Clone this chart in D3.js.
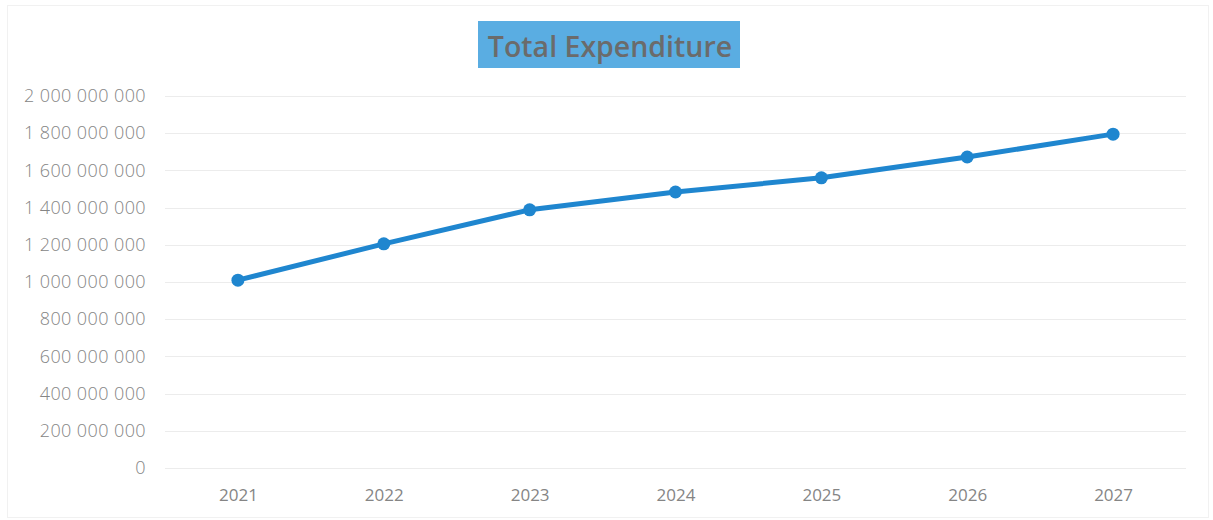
<!DOCTYPE html>
<html>
<head>
<meta charset="utf-8">
<script src="https://cdn.jsdelivr.net/npm/d3@7"></script>
<style>
  html, body { margin: 0; padding: 0; background: #ffffff; }
  svg { display: block; }
</style>
</head>
<body>
<svg id="chart" width="1213" height="520"></svg>
<script>
// Total expenditure per year
const years = ["2021", "2022", "2023", "2024", "2025", "2026", "2027"];
const expenditure = [1010000000, 1205000000, 1388000000, 1484000000, 1560000000, 1672000000, 1795000000];
const yTicks = [0, 200000000, 400000000, 600000000, 800000000, 1000000000,
                1200000000, 1400000000, 1600000000, 1800000000, 2000000000];
const chartTitle = "Total Expenditure";

const W = 1213, H = 520;
const margin = { left: 165, right: 27, top: 96, bottom: 52 };

const svg = d3.select("#chart");

// faint outer frame of the chart area
svg.append("rect")
  .attr("x", 7.5).attr("y", 5.5)
  .attr("width", W - 12).attr("height", H - 8)
  .attr("fill", "none")
  .attr("stroke", "#f1f1f1")
  .attr("stroke-width", 1);

const x = d3.scalePoint()
  .domain(years)
  .range([margin.left, W - margin.right])
  .padding(0.5);

const y = d3.scaleLinear()
  .domain([0, 2000000000])
  .range([H - margin.bottom, margin.top]);

// number format with spaces as thousands separator
const fmtSpace = d3.formatLocale({ decimal: ",", thousands: " ", grouping: [3], currency: ["", ""] }).format(",d");

// gridlines
svg.append("g")
  .attr("class", "grid")
  .selectAll("line")
  .data(yTicks)
  .join("line")
  .attr("x1", margin.left)
  .attr("x2", W - margin.right)
  .attr("y1", d => Math.round(y(d)) + 0.5)
  .attr("y2", d => Math.round(y(d)) + 0.5)
  .attr("stroke", "#ececec")
  .attr("stroke-width", 1);

// y axis labels
const yAxis = d3.axisLeft(y)
  .tickValues(yTicks)
  .tickFormat(fmtSpace)
  .tickSize(0)
  .tickPadding(0);

svg.append("g")
  .attr("transform", `translate(${146},0)`)
  .call(yAxis)
  .call(g => g.select(".domain").remove())
  .call(g => g.selectAll("text")
    .attr("fill", "#858585")
    .attr("font-family", "'Open Sans', 'Noto Sans', sans-serif")
    .attr("font-weight", 300)
    .attr("letter-spacing", "0.4px")
    .attr("font-size", "18px"));

// x axis labels
const xAxis = d3.axisBottom(x).tickSize(0).tickPadding(0);
svg.append("g")
  .attr("transform", `translate(0,${489})`)
  .call(xAxis)
  .call(g => g.select(".domain").remove())
  .call(g => g.selectAll("text")
    .attr("fill", "#858585")
    .attr("font-family", "'Open Sans', 'Noto Sans', sans-serif")
    .attr("font-weight", 400)
    .attr("font-size", "17px"));

// series line
const pts = years.map((yr, i) => ({ yr, v: expenditure[i] }));
const line = d3.line()
  .x(d => x(d.yr))
  .y(d => y(d.v));

svg.append("path")
  .datum(pts)
  .attr("d", line)
  .attr("fill", "none")
  .attr("stroke", "#1f86cf")
  .attr("stroke-width", 5)
  .attr("stroke-linejoin", "round")
  .attr("stroke-linecap", "round");

svg.append("g")
  .selectAll("circle")
  .data(pts)
  .join("circle")
  .attr("cx", d => x(d.yr))
  .attr("cy", d => y(d.v))
  .attr("r", 6.5)
  .attr("fill", "#1f86cf");

// title with filled box
const titleG = svg.append("g");
titleG.append("rect")
  .attr("x", 478)
  .attr("y", 21)
  .attr("width", 262)
  .attr("height", 47)
  .attr("fill", "#5aade2");
titleG.append("text")
  .attr("x", 610)
  .attr("y", 57)
  .attr("text-anchor", "middle")
  .attr("fill", "#6b6b6b")
  .attr("font-family", "'Open Sans', 'Noto Sans', sans-serif")
  .attr("font-weight", 600)
  .attr("font-size", "28.5px")
  .text(chartTitle);
</script>
</body>
</html>
